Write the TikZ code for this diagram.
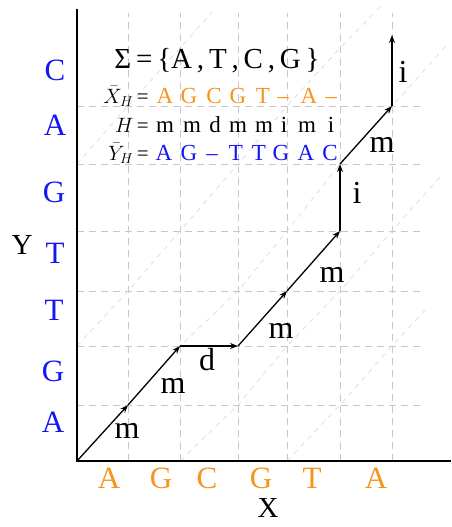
\documentclass[tikz,border=0pt]{standalone}
\usepackage{fontspec}
\setmainfont{Liberation Serif}
\usetikzlibrary{arrows.meta}
\definecolor{seqorange}{RGB}{247,148,29}
\definecolor{seqblue}{RGB}{20,20,245}
\begin{document}
\begin{tikzpicture}[x=1pt,y=-1pt,
  gridline/.style={draw=black!22, line width=0.8pt, dash pattern=on 7pt off 5pt},
  diagline/.style={draw=black!16, line width=0.6pt, dash pattern=on 5pt off 5pt},
  axisline/.style={draw=black, line width=2pt},
  steparrow/.style={draw=black, line width=1.3pt, -{Stealth[length=8pt,width=6pt]}},
  bigletter/.style={font=\fontsize{31}{36}\selectfont, anchor=base, inner sep=0pt},
  axislabel/.style={font=\fontsize{29}{34}\selectfont, anchor=base, inner sep=0pt},
  steplabel/.style={font=\fontsize{32}{37}\selectfont, anchor=base, inner sep=0pt},
  seqletter/.style={font=\fontsize{23}{26}\selectfont, anchor=base, inner sep=0pt},
  seqname/.style={font=\fontsize{21}{25}\selectfont, anchor=base east, inner sep=0pt},
  alphabet/.style={font=\fontsize{29}{34}\selectfont, anchor=base, inner sep=0pt}
]
\useasboundingbox (0,0) rectangle (451,527);

% grid corners
\foreach \i/\xv in {0/77,1/128,2/180,3/238,4/287,5/340,6/392}{
  \foreach \j/\yv in {0/461,1/405,2/346,3/291,4/231,5/164,6/106,7/48}{
    \coordinate (g\i\j) at (\xv,\yv);
  }
}

% dashed grid
\foreach \xv in {128,180,238,287,340,392}{
  \draw[gridline] (\xv,461) -- (\xv,13);
}
\foreach \yv in {405,346,291,231,164,106}{
  \draw[gridline] (77,\yv) -- (425,\yv);
}

% dashed diagonals through the grid corners
\draw[diagline] (g05) -- (g16) -- (g27) -- (212,12);
\draw[diagline] (g02) -- (g13) -- (g24) -- (g35) -- (g46) -- (g57) -- (381,6);
\draw[diagline] (g00) -- (g11) -- (g22) -- (g33) -- (g44) -- (g55) -- (g66) -- (448,44);
\draw[diagline] (g20) -- (g31) -- (g42) -- (g53) -- (g64) -- (440,177);
\draw[diagline] (g40) -- (g51) -- (g62) -- (428,307);

% axes
\coordinate (ytop) at (77,9);
\coordinate (xend) at (451,461);
\draw[axisline] (ytop) -- (g00) -- (xend);

% alignment path
\coordinate (pend) at (392,35);
\draw[steparrow] (g00) -- (g11);
\draw[steparrow] (g11) -- (g22);
\draw[steparrow] (g22) -- (g32);
\draw[steparrow] (g32) -- (g43);
\draw[steparrow] (g43) -- (g54);
\draw[steparrow] (g54) -- (g55);
\draw[steparrow] (g55) -- (g66);
\draw[steparrow] (g66) -- (pend);

% step labels
\node[steplabel] (l1) at (127,438) {m};
\node[steplabel] (l2) at (173,393) {m};
\node[steplabel] (l3) at (207,370) {d};
\node[steplabel] (l4) at (281,338) {m};
\node[steplabel] (l5) at (332,282) {m};
\node[steplabel] (l6) at (357,203) {i};
\node[steplabel] (l7) at (382,152) {m};
\node[steplabel] (l8) at (403,82) {i};

% Y sequence
\foreach \ch/\xv/\yv [count=\k] in {C/55/80,A/55/135,G/54/202,T/55/263,T/54/320,G/53/381,A/53/432}{
  \node[bigletter, text=seqblue] (ys\k) at (\xv,\yv) {\ch};
}
% X sequence
\foreach \ch/\xv [count=\k] in {A/109,G/161,C/207,G/261,T/312,A/376}{
  \node[bigletter, text=seqorange] (xs\k) at (\xv,488) {\ch};
}
\node[axislabel] (ylab) at (22,254) {Y};
\node[axislabel] (xlab) at (268,517) {X};

% alphabet and alignment
\node[alphabet] (sigma) at (217,68) {Σ\,=\,\{A\,,\,T\,,\,C\,,\,G\,\}};
\node[seqname] (xhname) at (149,103) {$\bar{X}_{H}$\,=};
\node[seqname] (hname) at (149,132) {$H$\,=};
\node[seqname] (yhname) at (149,160) {$\bar{Y}_{H}$\,=};
\foreach \ch/\xv [count=\k] in {A/165,G/189,C/214,G/238,T/263,–/283,A/309,–/331}{
  \node[seqletter, text=seqorange] (xh\k) at (\xv,103) {\ch};
}
\foreach \ch/\xv [count=\k] in {m/165,m/192,d/215,m/238,m/264,i/284,m/307,i/331}{
  \node[seqletter] (hh\k) at (\xv,132) {\ch};
}
\foreach \ch/\xv [count=\k] in {A/164,G/189,–/212,T/236,T/259,G/281,A/306,C/330}{
  \node[seqletter, text=seqblue] (yh\k) at (\xv,160) {\ch};
}
\end{tikzpicture}
\end{document}
